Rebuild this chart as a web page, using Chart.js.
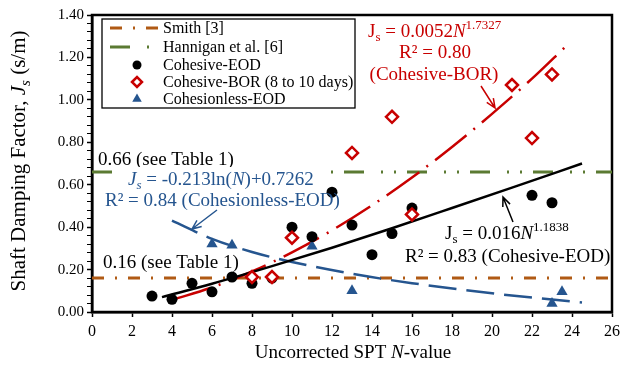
<!DOCTYPE html>
<html lang="en">
<head>
<meta charset="UTF-8">
<title>Shaft Damping Factor vs SPT N-value</title>
<script src="https://cdn.jsdelivr.net/npm/chart.js"></script>
<style>
    body { margin: 0; background: #fff; }
    canvas { display: block; }
</style>
</head>
<body>
<canvas id="dampingChart" width="625" height="376"></canvas>
<script>
const eodN  = [3, 4, 5, 6, 7, 8, 9, 10, 11, 12, 13, 14, 15, 16, 22, 23];
const eodJs = [0.075, 0.06, 0.135, 0.095, 0.165, 0.135, 0.16, 0.40, 0.355, 0.565, 0.41, 0.27, 0.37, 0.49, 0.55, 0.515];

const borN  = [8, 9, 10, 13, 15, 16, 21, 22, 23];
const borJs = [0.165, 0.165, 0.35, 0.75, 0.92, 0.46, 1.07, 0.82, 1.12];

const sandN  = [6, 7, 11, 13, 23, 23.5];
const sandJs = [0.32, 0.315, 0.31, 0.10, 0.04, 0.095];

// trend lines, read at a few N values along each curve
const eodFitN  = [3.5, 6, 9, 12, 15, 18, 21, 24.5];
const eodFitJs = [0.070, 0.133, 0.216, 0.303, 0.395, 0.490, 0.586, 0.700];

const borFitN  = [4, 6, 8, 10, 12, 14, 16, 18, 20, 22, 23.7];
const borFitJs = [0.057, 0.116, 0.191, 0.281, 0.385, 0.503, 0.634, 0.778, 0.934, 1.10, 1.253];

const sandFitN  = [4, 6, 8, 10, 13, 16, 20, 24.5];
const sandFitJs = [0.431, 0.345, 0.283, 0.236, 0.180, 0.136, 0.088, 0.045];

// recommended values from Table 1
const refN = [0, 26];
const smithJs = [0.16, 0.16];
const hanniganJs = [0.66, 0.66];

const xTicks = { min: 0, max: 26, step: 2 };
const yTicks = { min: 0, max: 1.4, step: 0.2, minor: 0.04 };

const RED = '#c80000';
const BLUE = '#25558f';
const ORANGE = '#b05a14';
const GREEN = '#5b7a32';
const SERIF = '"Liberation Serif", "Times New Roman", serif';

const xy = (xs, ys) => xs.map((x, i) => ({ x: x, y: ys[i] }));

// draw a line of text made of pieces (italic / superscript / subscript)
function drawRich(ctx, x, y, parts, color, align) {
    const base = 19, small = 13;
    const fontOf = p => (p.it ? 'italic ' : '') + (p.sup || p.sub ? small : base) + 'px ' + SERIF;
    let total = 0;
    parts.forEach(p => { ctx.font = fontOf(p); total += ctx.measureText(p.t).width; });
    let cx = align === 'center' ? x - total / 2 : x;
    ctx.fillStyle = color;
    ctx.textAlign = 'left';
    ctx.textBaseline = 'alphabetic';
    parts.forEach(p => {
        ctx.font = fontOf(p);
        const dy = p.sup ? -8 : (p.sub ? 4 : 0);
        ctx.fillText(p.t, cx, y + dy);
        cx += ctx.measureText(p.t).width;
    });
    return total;
}

function arrow(ctx, x1, y1, x2, y2, color) {
    const a = Math.atan2(y2 - y1, x2 - x1), h = 10, w = 0.4;
    ctx.save();
    ctx.strokeStyle = color;
    ctx.lineWidth = 1.5;
    ctx.beginPath();
    ctx.moveTo(x1, y1); ctx.lineTo(x2, y2);
    ctx.moveTo(x2 - h * Math.cos(a - w), y2 - h * Math.sin(a - w));
    ctx.lineTo(x2, y2);
    ctx.lineTo(x2 - h * Math.cos(a + w), y2 - h * Math.sin(a + w));
    ctx.stroke();
    ctx.restore();
}

function drawTitle(ctx, parts, cx, baseline, size) {
    const small = Math.round(size * 0.7);
    const fontOf = p => (p.it ? 'italic ' : '') + (p.sub ? small : size) + 'px ' + SERIF;
    let total = 0;
    parts.forEach(p => { ctx.font = fontOf(p); total += ctx.measureText(p.t).width; });
    let x = cx - total / 2;
    ctx.fillStyle = '#000';
    ctx.textAlign = 'left';
    ctx.textBaseline = 'alphabetic';
    parts.forEach(p => {
        ctx.font = fontOf(p);
        ctx.fillText(p.t, x, baseline + (p.sub ? 5 : 0));
        x += ctx.measureText(p.t).width;
    });
}

const framePlugin = {
    id: 'frame',
    beforeDatasetsDraw(chart) {
        const { ctx, chartArea: a } = chart;
        ctx.save();
        ctx.strokeStyle = '#000';
        ctx.lineWidth = 2.5;
        ctx.strokeRect(a.left, a.top, a.right - a.left, a.bottom - a.top);
        ctx.restore();
    }
};

const annotationPlugin = {
    id: 'annotations',
    afterDatasetsDraw(chart) {
        const ctx = chart.ctx;
        ctx.save();

        // reference line labels
        drawRich(ctx, 98, 165, [{ t: '0.66 (see Table 1)' }], '#000');
        drawRich(ctx, 103, 268, [{ t: '0.16 (see Table 1)' }], '#000');

        // Cohesive-BOR fit
        drawRich(ctx, 368, 37, [{ t: 'J' }, { t: 's', sub: true }, { t: ' = 0.0052' }, { t: 'N', it: true }, { t: '1.7327', sup: true }], RED);
        drawRich(ctx, 435, 58, [{ t: 'R² = 0.80' }], RED, 'center');
        drawRich(ctx, 434, 80, [{ t: '(Cohesive-BOR)' }], RED, 'center');
        arrow(ctx, 481, 86, 495, 108, RED);

        // Cohesionless-EOD fit (white box hides the reference line behind it)
        ctx.fillStyle = '#fff';
        ctx.fillRect(125, 167, 196, 21);
        drawRich(ctx, 128, 185, [{ t: 'J', it: true }, { t: 's', it: true, sub: true }, { t: ' = -0.213ln(' }, { t: 'N', it: true }, { t: ')+0.7262' }], BLUE);
        drawRich(ctx, 105, 206, [{ t: 'R² = 0.84 (Cohesionless-EOD)' }], BLUE);
        arrow(ctx, 217, 210, 192, 229, BLUE);

        // Cohesive-EOD fit
        drawRich(ctx, 445, 239, [{ t: 'J' }, { t: 's', sub: true }, { t: ' = 0.016' }, { t: 'N', it: true }, { t: '1.1838', sup: true }], '#000');
        drawRich(ctx, 405, 262, [{ t: 'R² = 0.83 (Cohesive-EOD)' }], '#000');
        arrow(ctx, 513, 222, 503, 197, '#000');

        // axis titles
        drawTitle(ctx, [{ t: 'Uncorrected SPT ' }, { t: 'N', it: true }, { t: '-value' }], 353, 358, 19);

        ctx.save();
        ctx.translate(18, 161);
        ctx.rotate(-Math.PI / 2);
        drawTitle(ctx, [{ t: 'Shaft Damping Factor, ' }, { t: 'J', it: true }, { t: 's', it: true, sub: true }, { t: ' (s/m)' }], 0, 7, 21);
        ctx.restore();

        ctx.restore();
    }
};

const legendPlugin = {
    id: 'boxLegend',
    afterDatasetsDraw(chart) {
        const ctx = chart.ctx;
        const items = chart.data.datasets.filter(d => d.inLegend).sort((a, b) => a.inLegend - b.inLegend);
        ctx.save();
        ctx.fillStyle = '#fff';
        ctx.fillRect(102, 19, 253, 89);
        ctx.strokeStyle = '#000';
        ctx.lineWidth = 1.3;
        ctx.strokeRect(102, 19, 253, 89);
        const rows = [28, 47, 65, 82, 99];
        items.forEach((d, i) => {
            const y = rows[i];
            if (d.showLine) {
                ctx.save();
                ctx.strokeStyle = d.borderColor;
                ctx.lineWidth = d.borderWidth;
                ctx.setLineDash(d.borderDash || []);
                ctx.beginPath();
                ctx.moveTo(110, y); ctx.lineTo(158, y);
                ctx.stroke();
                ctx.restore();
            } else {
                ctx.save();
                ctx.fillStyle = d.backgroundColor;
                ctx.strokeStyle = d.borderColor;
                ctx.lineWidth = d.pointBorderWidth || 0;
                Chart.helpers.drawPoint(ctx, {
                    pointStyle: d.pointStyle, radius: d.legendRadius, rotation: 0,
                    borderWidth: d.pointBorderWidth || 0
                }, 137, y);
                ctx.restore();
            }
            ctx.fillStyle = '#000';
            ctx.font = '16px ' + SERIF;
            ctx.textAlign = 'left';
            ctx.textBaseline = 'middle';
            ctx.fillText(d.label, 163, y + 1);
        });
        ctx.restore();
    }
};

const isMajor = v => Math.abs(v / yTicks.step - Math.round(v / yTicks.step)) < 1e-6;

new Chart(document.getElementById('dampingChart').getContext('2d'), {
    type: 'scatter',
    data: {
        datasets: [
            {
                label: 'Cohesive-BOR (8 to 10 days)', inLegend: 4,
                data: xy(borN, borJs), pointStyle: 'rectRot', pointRadius: 6,
                backgroundColor: '#fff', borderColor: RED, pointBorderWidth: 2.5,
                legendRadius: 5, order: 1
            },
            {
                label: 'Cohesive-EOD', inLegend: 3,
                data: xy(eodN, eodJs), pointStyle: 'circle', pointRadius: 5.5,
                backgroundColor: '#000', borderColor: '#000', pointBorderWidth: 0,
                legendRadius: 4.5, order: 2
            },
            {
                label: 'Cohesionless-EOD', inLegend: 5,
                data: xy(sandN, sandJs), pointStyle: 'triangle', pointRadius: 6.5,
                backgroundColor: BLUE, borderColor: BLUE, pointBorderWidth: 0,
                legendRadius: 5.5, order: 3
            },
            {
                label: 'Cohesive-EOD fit',
                data: xy(eodFitN, eodFitJs), showLine: true, pointRadius: 0,
                borderColor: '#000', borderWidth: 2.5, tension: 0.4,
                cubicInterpolationMode: 'monotone', order: 5
            },
            {
                label: 'Cohesive-BOR fit',
                data: xy(borFitN, borFitJs), showLine: true, pointRadius: 0,
                borderColor: RED, borderWidth: 2.5, borderDash: [40, 9, 2, 9],
                tension: 0.4, cubicInterpolationMode: 'monotone', order: 6
            },
            {
                label: 'Cohesionless-EOD fit',
                data: xy(sandFitN, sandFitJs), showLine: true, pointRadius: 0,
                borderColor: BLUE, borderWidth: 2.5, borderDash: [28, 10],
                tension: 0.4, cubicInterpolationMode: 'monotone', order: 7
            },
            {
                label: 'Smith [3]', inLegend: 1,
                data: xy(refN, smithJs), showLine: true, pointRadius: 0,
                borderColor: ORANGE, borderWidth: 3, borderDash: [12, 11, 2, 11], order: 8
            },
            {
                label: 'Hannigan et al. [6]', inLegend: 2,
                data: xy(refN, hanniganJs), showLine: true, pointRadius: 0,
                borderColor: GREEN, borderWidth: 3, borderDash: [20, 17, 2, 11, 2, 11], order: 9
            }
        ]
    },
    options: {
        responsive: false,
        animation: false,
        events: [],
        layout: { padding: { top: 15, right: 11, left: 0, bottom: 0 } },
        plugins: { legend: { display: false }, tooltip: { enabled: false } },
        scales: {
            x: {
                type: 'linear', min: xTicks.min, max: xTicks.max,
                afterFit: s => { s.height = 64; },
                ticks: { stepSize: xTicks.step, color: '#000', padding: 5, font: { family: SERIF, size: 16 } },
                grid: { drawOnChartArea: false, tickLength: 5, color: '#000', tickWidth: 1.5 },
                border: { color: '#000', width: 2.5 }
            },
            y: {
                min: yTicks.min, max: yTicks.max,
                afterFit: s => { s.width = 92; },
                ticks: {
                    stepSize: yTicks.minor, autoSkip: false, color: '#000', padding: 3,
                    font: { family: SERIF, size: 15 },
                    callback: v => isMajor(v) ? v.toFixed(2) : ''
                },
                grid: {
                    drawOnChartArea: false, tickLength: 5, color: '#000',
                    tickWidth: c => isMajor(c.tick.value) ? 1.5 : 1
                },
                border: { color: '#000', width: 2.5 }
            }
        }
    },
    plugins: [framePlugin, legendPlugin, annotationPlugin]
});
</script>
</body>
</html>
